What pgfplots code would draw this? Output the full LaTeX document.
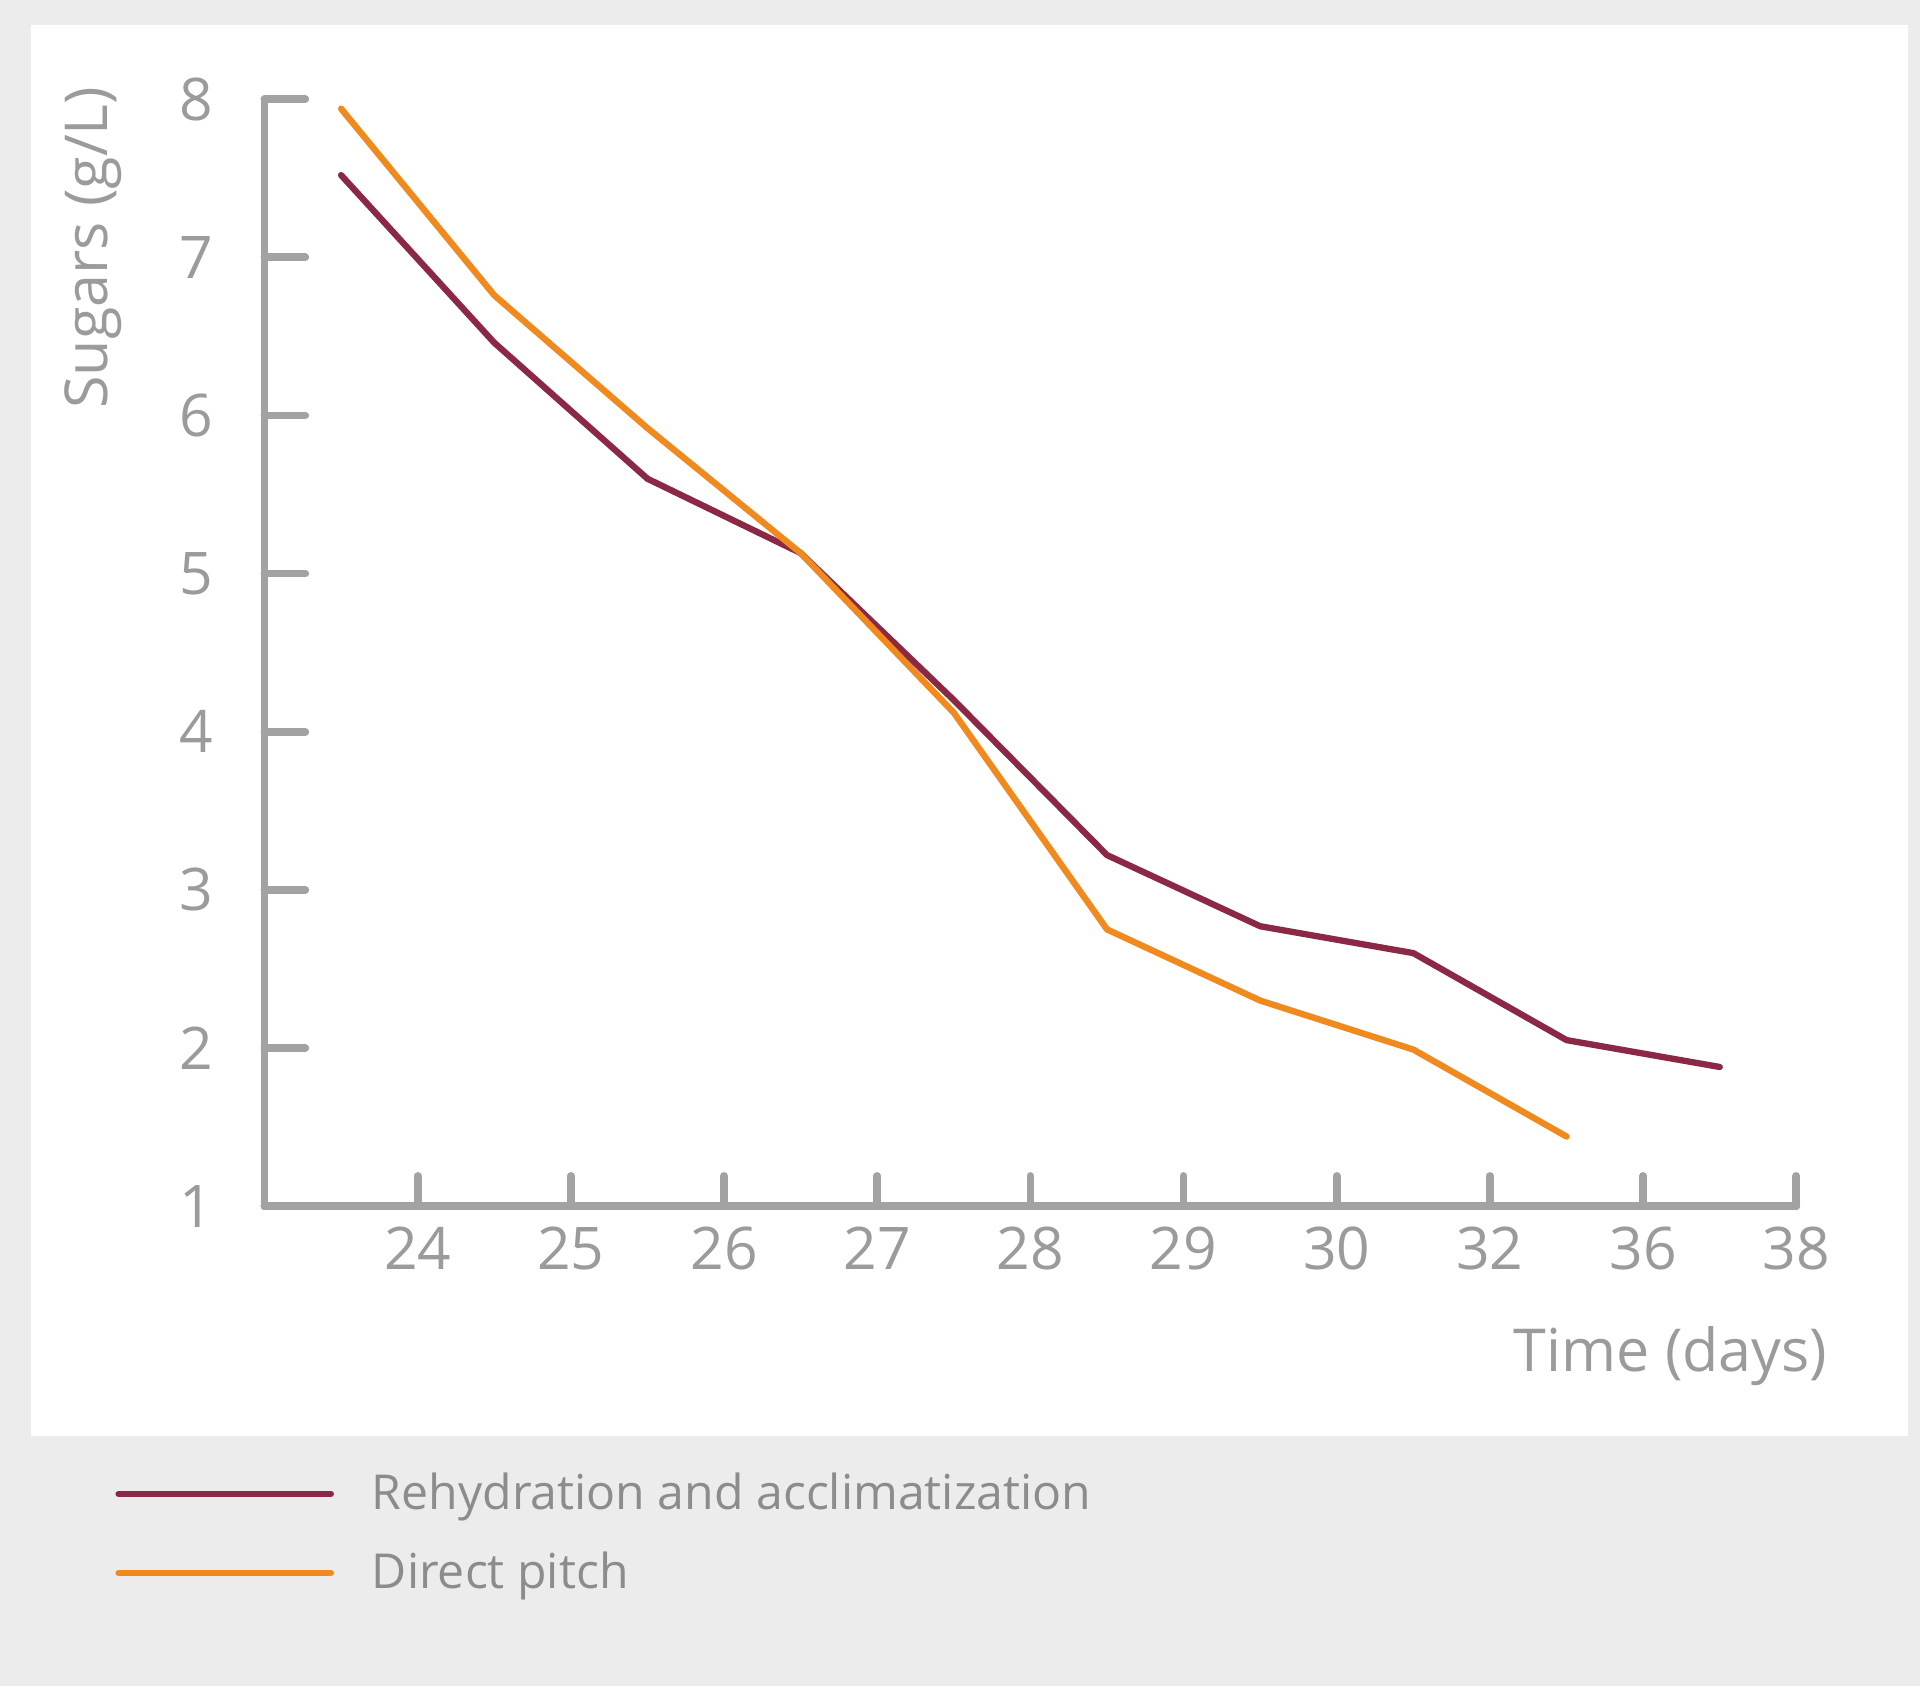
\documentclass[border=0pt]{standalone}
\usepackage{fontspec}
\setmainfont{Open Sans}
\usepackage{pgfplots}
\pgfplotsset{compat=1.18}
\definecolor{bggray}{HTML}{ECECEC}
\definecolor{axgray}{HTML}{A2A2A2}
\definecolor{txtgray}{HTML}{9B9B9B}
\definecolor{leggray}{HTML}{8C8C8C}
\definecolor{mymaroon}{HTML}{8B2846}
\definecolor{myorange}{HTML}{F08A1E}
\begin{document}
\begin{tikzpicture}
\fill[bggray] (-64.8pt,-117.6pt) rectangle (405.6pt,295.5pt);
\fill[white] (-57.3pt,-56.4pt) rectangle (402.6pt,289.4pt);
\begin{axis}[
  at={(0pt,0pt)}, anchor=south west,
  scale only axis, width=375.3pt, height=271.2pt,
  xmin=0, xmax=10, ymin=1, ymax=8,
  axis x line=bottom, axis y line=left,
  axis line style={-, axgray, line width=1.9pt, line cap=round},
  xtick={1,...,10}, xticklabels={24,25,26,27,28,29,30,32,36,38},
  ytick={1,...,8},
  tick align=inside,
  major tick length=10pt,
  xtick style={/pgfplots/major tick length=7.4pt},
  tick style={axgray, line width=1.9pt, line cap=round},
  /pgf/number format/assume math mode=true,
  ticklabel style={font=\fontsize{14.4}{16}\selectfont, text=txtgray},
  yticklabel style={anchor=east, inner sep=0pt, xshift=-12.5pt},
  xticklabel style={anchor=north, inner sep=0pt, yshift=-4.9pt},
  xlabel={Time (days)},
  xlabel style={at={(axis description cs:1.0208,-0.1490)}, anchor=base east, inner sep=0pt, font=\fontsize{14.5}{17}\selectfont, text=txtgray},
  ylabel={Sugars (g/L)},
  ylabel style={at={(axis description cs:-0.1027,1.0120)}, anchor=base east, inner sep=0pt, font=\fontsize{14.5}{17}\selectfont, text=txtgray},
  clip=false,
  legend cell align=left,
  legend style={at={(axis description cs:-0.0973,-0.2407)}, anchor=north west, draw=none, fill=none, inner sep=0pt, outer sep=0pt, row sep=8.9pt, column sep=9.3pt, font=\fontsize{11.8}{14}\selectfont, text=leggray, nodes={inner sep=0pt}},
  legend image code/.code={\draw[#1, line cap=round] (0pt,0pt) -- (52pt,0pt);},
]
\addplot[mymaroon, line width=1.55pt, line join=round, line cap=round] coordinates {
(0.5,7.52) (1.5,6.46) (2.5,5.60) (3.5,5.13) (4.5,4.20) (5.5,3.22) (6.5,2.77) (7.5,2.60) (8.5,2.05) (9.5,1.88)
};
\addlegendentry{Rehydration and acclimatization}
\addplot[myorange, line width=1.55pt, line join=round, line cap=round] coordinates {
(0.5,7.94) (1.5,6.76) (2.5,5.92) (3.5,5.13) (4.5,4.12) (5.5,2.75) (6.5,2.30) (7.5,1.99) (8.5,1.44)
};
\addlegendentry{Direct pitch}
\end{axis}
\pgfresetboundingbox
\path (-64.8pt,-117.6pt) rectangle (405.6pt,295.5pt);
\end{tikzpicture}
\end{document}
